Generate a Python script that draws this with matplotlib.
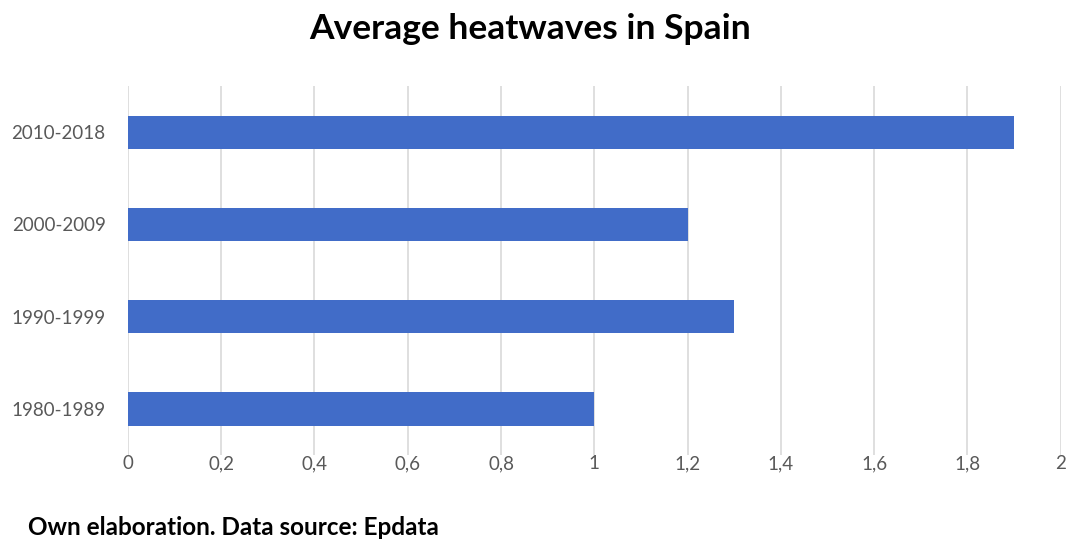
import matplotlib
matplotlib.use("Agg")
import matplotlib.pyplot as plt

# data
periods = ["1980-1989", "1990-1999", "2000-2009", "2010-2018"]
heatwaves = [1.0, 1.3, 1.2, 1.9]
x_ticks = [0, 0.2, 0.4, 0.6, 0.8, 1.0, 1.2, 1.4, 1.6, 1.8, 2.0]
x_labels = ["0", "0,2", "0,4", "0,6", "0,8", "1", "1,2", "1,4", "1,6", "1,8", "2"]

plt.rcParams["font.family"] = ["Lato", "DejaVu Sans"]

fig = plt.figure(figsize=(10.66, 5.45), dpi=100)
ax = fig.add_axes([0.12, 0.165, 0.875, 0.677])

ax.barh(range(len(periods)), heatwaves, height=0.36, color="#416CC8", zorder=3)

ax.set_xlim(0, 2)
ax.set_ylim(-0.5, len(periods) - 0.5)
ax.set_xticks(x_ticks)
ax.set_xticklabels(x_labels)
ax.set_yticks(range(len(periods)))
ax.set_yticklabels(periods)
ax.tick_params(axis="both", length=0, labelsize=13.5, colors="#595959")
ax.tick_params(axis="x", pad=0)
ax.tick_params(axis="y", pad=16)
ax.grid(axis="x", color="#D9D9D9", linewidth=1.2, zorder=0)
for s in ax.spines.values():
    s.set_visible(False)

fig.text(0.497, 0.946, "Average heatwaves in Spain", ha="center", va="center",
         fontsize=25.5, fontweight="bold", color="black")
fig.text(0.026, 0.032, "Own elaboration. Data source: Epdata", ha="left", va="center",
         fontsize=17.5, fontweight="bold", color="black")

fig.savefig("out.png", dpi=100)
